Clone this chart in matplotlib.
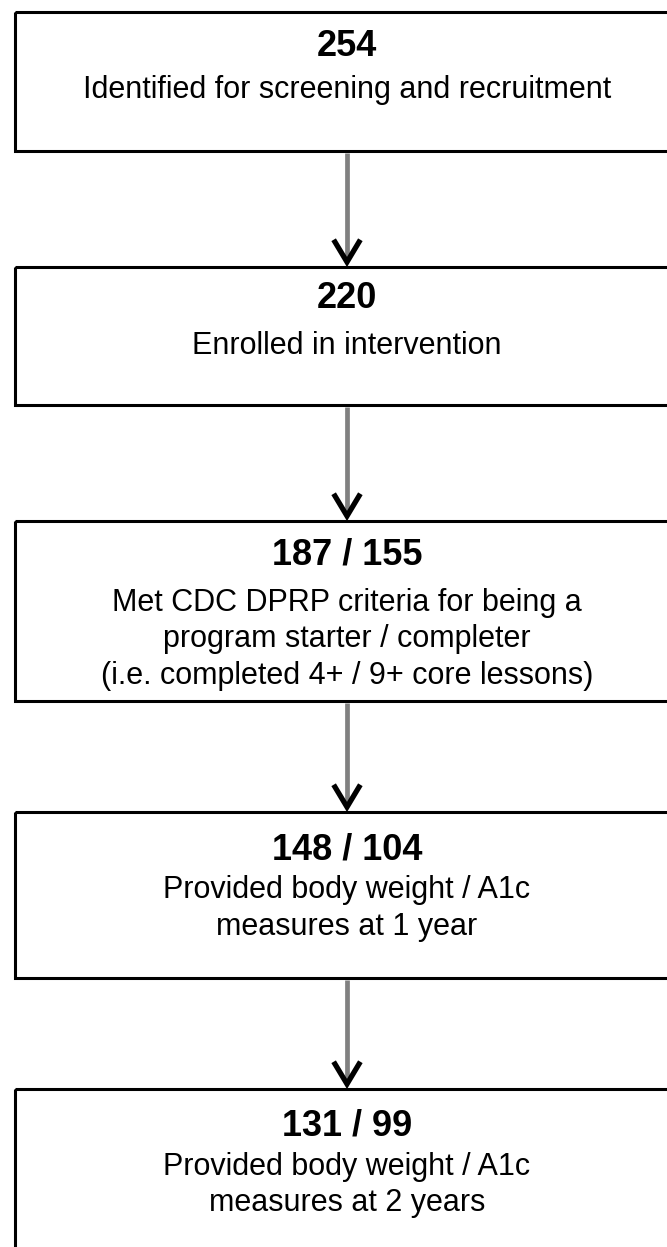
import matplotlib.pyplot as plt
from matplotlib.patches import Rectangle

plt.rcParams['font.family'] = ['Liberation Sans', 'DejaVu Sans']

# Данные блок-схемы
counts = ["254", "220", "187 / 155", "148 / 104", "131 / 99"]
labels = [
    ["Identified for screening and recruitment"],
    ["Enrolled in intervention"],
    ["Met CDC DPRP criteria for being a",
     "program starter / completer",
     "(i.e. completed 4+ / 9+ core lessons)"],
    ["Provided body weight / A1c", "measures at 1 year"],
    ["Provided body weight / A1c", "measures at 2 years"],
]

# Положение блоков (верх, низ) в пикселях
boxes = [(12, 151), (267, 405), (521, 701), (812, 978), (1089, 1262)]
num_y = [47, 299, 555, 850, 1126]
first_line = [90, 346, 603, 890, 1167]
line_gap = 36.5
cx = 347

fig = plt.figure(figsize=(6.67, 12.47), dpi=100)
ax = fig.add_axes([0, 0, 1, 1])
ax.set_xlim(0, 667)
ax.set_ylim(1247, 0)
ax.axis('off')

for i, (top, bot) in enumerate(boxes):
    ax.add_patch(Rectangle((15, top), 680, bot - top, fill=False,
                           edgecolor='black', linewidth=2.2))
    ax.text(cx, num_y[i], counts[i], ha='center', va='center',
            fontsize=26, fontweight='bold')
    for j, line in enumerate(labels[i]):
        ax.text(cx, first_line[i] + j * line_gap, line,
                ha='center', va='center', fontsize=22)

# Стрелки между блоками
for k in range(len(boxes) - 1):
    y0 = boxes[k][1]
    y1 = boxes[k + 1][0]
    ax.plot([cx, cx], [y0 + 2, y1 - 6], color='#808080', linewidth=3.4,
            solid_capstyle='butt')
    ax.plot([cx - 12, cx, cx + 12], [y1 - 25, y1 - 5, y1 - 25],
            color='black', linewidth=3.8, solid_joinstyle='miter')

fig.savefig('out.png', dpi=100)
